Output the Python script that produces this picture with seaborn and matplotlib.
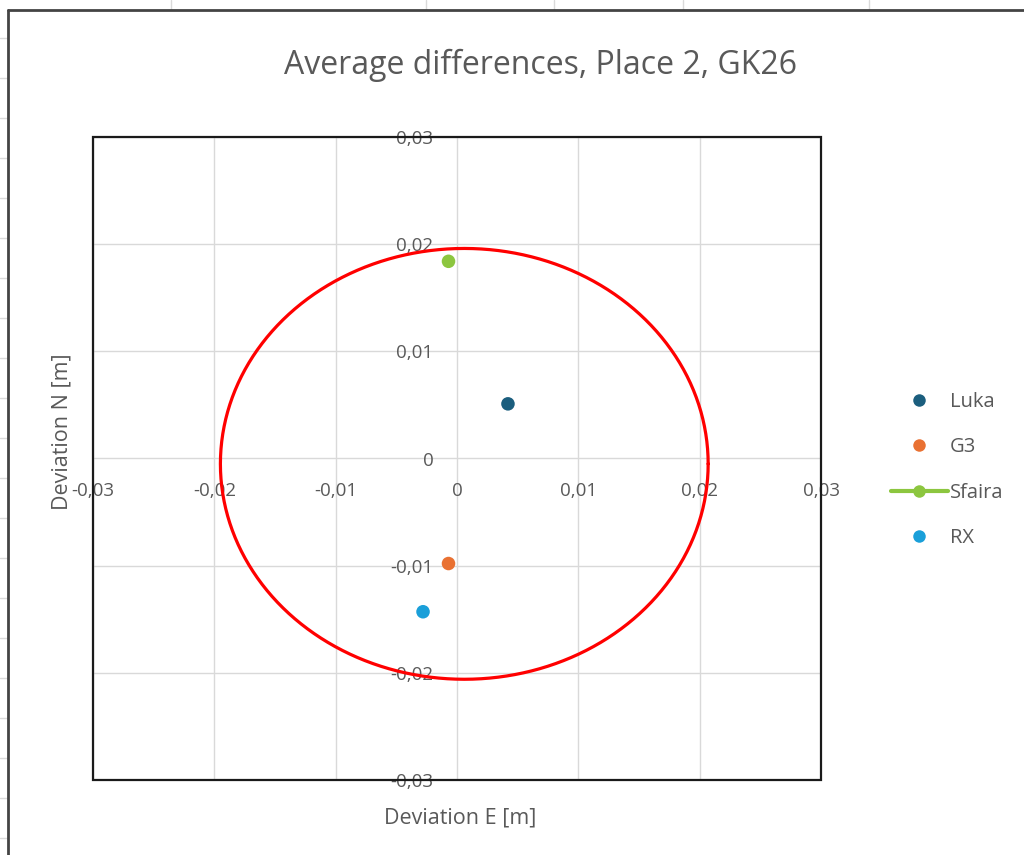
import numpy as np
import pandas as pd
import matplotlib
matplotlib.use("Agg")
import matplotlib.pyplot as plt
from matplotlib.lines import Line2D
from matplotlib.patches import Rectangle
from matplotlib.ticker import FuncFormatter, MultipleLocator
import seaborn as sns

# Average deviations per receiver [m]
receivers = ["Luka", "G3", "Sfaira", "RX"]
dev_e = [0.0042, -0.0007, -0.0007, -0.0028]
dev_n = [0.0051, -0.0098, 0.0184, -0.0143]
colors = ["#1B5E7E", "#E97132", "#8CC63F", "#1A9FD9"]

# Tolerance circle
circle_center = (0.0006, -0.0005)
circle_radius = 0.0201

axis_min, axis_max, axis_step = -0.03, 0.03, 0.01

title = "Average differences, Place 2, GK26"
xlabel = "Deviation E [m]"
ylabel = "Deviation N [m]"

sns.set_theme(style="white")
plt.rcParams["font.family"] = ["Open Sans", "DejaVu Sans"]
text_grey = "#595959"

W, H = 1024, 855
fig = plt.figure(figsize=(W / 100, H / 100), dpi=100)
fig.patch.set_facecolor("white")

# Spreadsheet background: cell gridlines and chart-area border
for yy in range(38, H, 40):
    fig.add_artist(Line2D([0, 8 / W], [1 - yy / H] * 2, color="#DADADA", lw=1.0))
for xx in [171, 426, 554, 683, 869]:
    fig.add_artist(Line2D([xx / W] * 2, [1, 1 - 9 / H], color="#DADADA", lw=1.0))
fig.add_artist(Line2D([8 / W, 8 / W], [0, 1 - 10 / H], color="#444444", lw=2.0))
fig.add_artist(Line2D([8 / W, 1], [1 - 10 / H] * 2, color="#444444", lw=2.0))

left, right, top, bottom = 93, 821, 137, 780
ax = fig.add_axes([left / W, 1 - bottom / H, (right - left) / W, (bottom - top) / H])

df = pd.DataFrame({"Receiver": receivers, "E": dev_e, "N": dev_n})

# Circle
theta = np.linspace(0, 2 * np.pi, 361)
ax.plot(circle_center[0] + circle_radius * np.cos(theta),
        circle_center[1] + circle_radius * np.sin(theta),
        color="#FF0000", lw=2.3, zorder=3)

sns.scatterplot(data=df, x="E", y="N", hue="Receiver", palette=colors,
                s=95, edgecolor="none", legend=False, ax=ax, zorder=4)

ax.set_xlim(axis_min, axis_max)
ax.set_ylim(axis_min, axis_max)
ax.xaxis.set_major_locator(MultipleLocator(axis_step))
ax.yaxis.set_major_locator(MultipleLocator(axis_step))
fmt = FuncFormatter(lambda v, p: "0" if abs(v) < 1e-9 else f"{v:.2f}".replace(".", ","))
ax.xaxis.set_major_formatter(fmt)
ax.yaxis.set_major_formatter(fmt)

ax.grid(True, color="#D9D9D9", lw=1.0, zorder=0)
ax.set_axisbelow(True)

# Axes cross at zero, labels next to the crossing lines
for side in ["left", "bottom"]:
    ax.spines[side].set_position("zero")
    ax.spines[side].set_color("none")
for side in ["top", "right"]:
    ax.spines[side].set_visible(False)
ax.add_patch(Rectangle((0, 0), 1, 1, transform=ax.transAxes, fill=False,
                       edgecolor="#1A1A1A", lw=1.6, zorder=6, clip_on=False))

ax.tick_params(axis="x", length=0, pad=17, labelsize=13.5, labelcolor=text_grey)
ax.tick_params(axis="y", length=0, pad=17, labelsize=13.5, labelcolor=text_grey)

ax.set_xlabel(xlabel, fontsize=15.5, color=text_grey, va="center")
ax.set_ylabel(ylabel, fontsize=15.5, color=text_grey, va="center")
ax.xaxis.set_label_coords((460 - left) / (right - left), (bottom - 818) / (bottom - top))
ax.yaxis.set_label_coords((62 - left) / (right - left), (bottom - 432) / (bottom - top))

fig.text(540 / W, 1 - 65 / H, title, ha="center", va="center",
         fontsize=23, color=text_grey)

# Legend
handles = []
for name, c in zip(receivers, colors):
    if name == "Sfaira":
        handles.append(Line2D([], [], color=c, lw=3, marker="o", markersize=9,
                              markeredgecolor="none", label=name))
    else:
        handles.append(Line2D([], [], color=c, lw=0, marker="o", markersize=9,
                              markeredgecolor="none", label=name))
leg = fig.legend(handles=handles, loc="center left",
                 bbox_to_anchor=(873 / W, 1 - 470 / H), frameon=False,
                 fontsize=14.5, handlelength=2.8, handletextpad=0.1,
                 labelspacing=1.25)
for t in leg.get_texts():
    t.set_color(text_grey)

fig.savefig("out.png", dpi=100, facecolor="white")
